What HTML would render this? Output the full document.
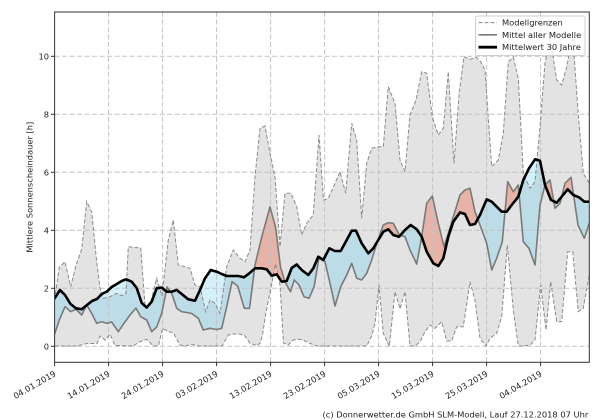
<!DOCTYPE html>
<html><head><meta charset="utf-8"><style>
html,body{margin:0;padding:0;background:#fff;}
svg{display:block;}
text{font-family:"DejaVu Sans","Liberation Sans",sans-serif;font-size:8.3px;fill:#222;}
</style></head><body>
<svg width="600" height="420" viewBox="0 0 600 420" xmlns="http://www.w3.org/2000/svg">
<defs>
<clipPath id="ax"><rect x="54.6" y="12" width="534.7" height="350.3"/></clipPath>
<clipPath id="cBelowBlack"><path d="M54.6,298.3 60,290 65,295 70.5,304 76,308.3 81.7,309.3 87,305 92,301 97,299 101.7,294 106.7,291.7 111.7,287 116.7,284 121.7,281 126,279.3 131.7,281.7 136.7,288 141.7,303 146.7,307.5 151.7,301.7 156.7,288.3 161.7,287.5 166.7,291.7 171.7,291.7 176.7,290 181.7,294 188.3,299.3 195,300.7 200,290 205,278.3 210.7,270 216.7,271.7 221.7,274 226.7,276 233.3,276 238.3,276 244,277.3 249.3,273.3 255,268.3 261.7,268.3 266.7,269.3 271.7,275.7 276.7,274.3 281.7,281.7 286.7,281 291.7,268 296.7,264.5 301.7,270 308.3,275 313.3,268.3 318.3,256.7 323.3,260 329.3,248.3 335,251 340.7,251 346.7,240 351.7,230.7 356,230.7 361.7,243.3 368.3,253.3 373.3,248.3 378.3,240 383.3,231.7 388.3,229.3 393.3,235 399,236.7 405,230 410.7,225 416.7,229.3 421.7,236.7 426.7,251.7 433.3,263.3 438.3,266 443.3,258.3 448.3,236.7 453.3,221.7 460,212.5 465,214 470,225 475,224 480,215 486.7,199.3 491.7,201.7 496.7,206.7 501.7,211.7 506.7,211.7 511.7,205 518.3,196.7 523.3,180 529,168.3 535,159.3 540,160.7 545,185 551,200 556.7,202.7 561.7,196.7 567.7,189.3 573.3,195 579,197.3 584.3,201.7 589.3,201.7 L589.3,420 54.6,420 Z"/></clipPath>
<clipPath id="cAboveBlack"><path d="M54.6,298.3 60,290 65,295 70.5,304 76,308.3 81.7,309.3 87,305 92,301 97,299 101.7,294 106.7,291.7 111.7,287 116.7,284 121.7,281 126,279.3 131.7,281.7 136.7,288 141.7,303 146.7,307.5 151.7,301.7 156.7,288.3 161.7,287.5 166.7,291.7 171.7,291.7 176.7,290 181.7,294 188.3,299.3 195,300.7 200,290 205,278.3 210.7,270 216.7,271.7 221.7,274 226.7,276 233.3,276 238.3,276 244,277.3 249.3,273.3 255,268.3 261.7,268.3 266.7,269.3 271.7,275.7 276.7,274.3 281.7,281.7 286.7,281 291.7,268 296.7,264.5 301.7,270 308.3,275 313.3,268.3 318.3,256.7 323.3,260 329.3,248.3 335,251 340.7,251 346.7,240 351.7,230.7 356,230.7 361.7,243.3 368.3,253.3 373.3,248.3 378.3,240 383.3,231.7 388.3,229.3 393.3,235 399,236.7 405,230 410.7,225 416.7,229.3 421.7,236.7 426.7,251.7 433.3,263.3 438.3,266 443.3,258.3 448.3,236.7 453.3,221.7 460,212.5 465,214 470,225 475,224 480,215 486.7,199.3 491.7,201.7 496.7,206.7 501.7,211.7 506.7,211.7 511.7,205 518.3,196.7 523.3,180 529,168.3 535,159.3 540,160.7 545,185 551,200 556.7,202.7 561.7,196.7 567.7,189.3 573.3,195 579,197.3 584.3,201.7 589.3,201.7 L589.3,0 54.6,0 Z"/></clipPath>
<clipPath id="cBelowUpper"><path d="M54.6,300 59.3,267.3 65,261.7 70.7,286.7 76,265 81.7,249.3 86.7,201.7 91.7,211.7 96.7,262 100,288 103.3,298.3 110,296.7 116.7,293.3 121.7,295.7 126,293.3 128.3,246.7 135,247.5 140.7,248 145,305 150,305 156.7,278.3 162,296 168.3,240 173.3,220 178.3,265 185,266.7 190,268.3 195,285 200,286.7 205.7,311.7 210,300 215,303.3 220,313.3 226.7,266.7 233.3,250 240,258.3 245,261.7 250,250 255,176.7 260,128.3 265,126 270,153.3 275,176.7 280,246.7 285,193.3 291,193.3 296.7,206.7 301.7,235 306.7,223.3 313.3,215 319,135 323.5,200 328.3,198.3 335,183.3 340,171.7 345.7,193.3 351.7,123.3 356.7,140 361.7,218.3 366.7,163.3 371.7,148.3 378.3,146.7 383.3,146.7 388.3,86.7 395,103.3 400,160 405,171.7 410,115 416,100 421.7,71.7 426.7,73.3 432.3,116.7 438.3,135 443.3,128.3 448.3,71.7 454,163.3 459.3,91.7 464,56.7 470,59.3 476,57.3 480,60.7 485,70 491.7,166.7 498.3,160 503.3,133.3 508.3,61.7 513.3,57.3 518.3,78.3 523.3,173.3 530,188.3 535,181.7 540,126.7 545,63.3 550,36.7 556.7,80 561.7,85 566.7,66.7 572.7,36 578.3,115 583.3,173.3 589.3,183.3 L589.3,420 54.6,420 Z"/></clipPath>
<clipPath id="cAboveLower"><path d="M54.6,346 76.7,346 87,343.5 97,343.5 100,336 105,340 110,334.3 115,345.5 133,346 140,341.7 146.7,339.3 153.3,346 158.3,346 162.7,328.3 168.3,331.7 173.3,332.7 180,345 185,346 191.7,344.3 198,346 222,346 228.3,335 233.3,334 240,334 245,336 250,343.3 256.7,345.5 260,343.3 262.5,335 266,312 270.5,290 275.5,264 280,285 283.5,343 288,345 293.3,340 298.3,339.3 303,340 310,343.3 316.7,346 366.7,346 371.7,336 375,323.3 379,285 383.3,333.3 389.3,346.5 395,291.7 400,309 405,291.7 410,346 415,346 420,341.7 425,331.7 430,325 435,328.3 441.7,321.7 446.7,341 451.7,341 456.7,326.7 463.3,326.7 470,281.7 475,300 480,338.3 486,346 490,338.3 496.7,333.3 501.7,316.7 507.3,245 513.3,310 518.3,346 523.3,346 530,345 535,340 540.7,285 546,330 550.7,281.7 556.7,321.7 561.7,321.7 567.7,251.7 572.7,251.7 578.3,311.7 583.3,308.3 589.3,275 L589.3,0 54.6,0 Z"/></clipPath>
</defs>

<rect x="0" y="0" width="600" height="420" fill="#fff"/>

<g clip-path="url(#ax)">
<!-- gray model range -->
<g clip-path="url(#cAboveLower)"><g clip-path="url(#cBelowUpper)">
<rect x="54.6" y="12" width="534.7" height="350.3" fill="#e3e3e3"/>
</g></g>

<!-- light fills (outside gray) -->
<path clip-path="url(#cBelowBlack)" fill="#d4f1fb" d="M54.6,334 59.3,320 65,306.7 70.7,311.7 76,309.3 81.7,315 86.7,305 91.7,313.3 96.7,323.3 101.7,321.7 106.7,323.3 111.7,322 118.3,331.7 124,323.3 130,315 136,308 140.7,316.7 146.7,320 151.7,331.7 156.7,327 161.7,313.3 167,287 171.7,293.3 176.7,308.3 181.7,311.7 186.7,312.5 191.7,313.5 198.3,318.3 203.3,330 210,328.3 216.7,329.5 221.7,328.3 226.7,306.7 232,281.7 237.7,286 244.3,308.3 249.5,308.3 255,265 262,236 270,207 275.5,227 280.5,267 285,282 290.5,291.7 294.3,280 299,285 304,296.7 309,298.3 314,287 319,258 325,261.7 330,283.3 335,306 340.7,286.7 346.7,275 351.7,263.3 356.7,278.3 361.7,280 366.7,273.3 371.7,260 377.3,241.7 383.3,225 388.3,222.7 393.3,223.3 399.3,235 405,236.7 410,250 416.7,264 421.7,236.7 426.7,203.3 432.3,196 438.3,223.3 444,246.7 448.3,233.3 453.3,216.7 460,195 465,190 470,188.3 475,211.7 480,225 486.7,243.3 491.7,270 496.7,258.3 502.3,241.7 507.7,181.7 513.3,191.7 518.3,185 523.3,241.7 529,248.3 535,265 540,205 545,185 550,180 555,208.3 560,203.3 565,183.3 571,177.3 578,225 584.3,238.3 589.3,223.3 L589.3,0 54.6,0 Z"/>
<path clip-path="url(#cAboveBlack)" fill="#f3cfc6" d="M54.6,334 59.3,320 65,306.7 70.7,311.7 76,309.3 81.7,315 86.7,305 91.7,313.3 96.7,323.3 101.7,321.7 106.7,323.3 111.7,322 118.3,331.7 124,323.3 130,315 136,308 140.7,316.7 146.7,320 151.7,331.7 156.7,327 161.7,313.3 167,287 171.7,293.3 176.7,308.3 181.7,311.7 186.7,312.5 191.7,313.5 198.3,318.3 203.3,330 210,328.3 216.7,329.5 221.7,328.3 226.7,306.7 232,281.7 237.7,286 244.3,308.3 249.5,308.3 255,265 262,236 270,207 275.5,227 280.5,267 285,282 290.5,291.7 294.3,280 299,285 304,296.7 309,298.3 314,287 319,258 325,261.7 330,283.3 335,306 340.7,286.7 346.7,275 351.7,263.3 356.7,278.3 361.7,280 366.7,273.3 371.7,260 377.3,241.7 383.3,225 388.3,222.7 393.3,223.3 399.3,235 405,236.7 410,250 416.7,264 421.7,236.7 426.7,203.3 432.3,196 438.3,223.3 444,246.7 448.3,233.3 453.3,216.7 460,195 465,190 470,188.3 475,211.7 480,225 486.7,243.3 491.7,270 496.7,258.3 502.3,241.7 507.7,181.7 513.3,191.7 518.3,185 523.3,241.7 529,248.3 535,265 540,205 545,185 550,180 555,208.3 560,203.3 565,183.3 571,177.3 578,225 584.3,238.3 589.3,223.3 L589.3,420 54.6,420 Z"/>

<!-- dark fills (inside gray) -->
<g clip-path="url(#cAboveLower)"><g clip-path="url(#cBelowUpper)">
<path clip-path="url(#cBelowBlack)" fill="#bcdce8" d="M54.6,334 59.3,320 65,306.7 70.7,311.7 76,309.3 81.7,315 86.7,305 91.7,313.3 96.7,323.3 101.7,321.7 106.7,323.3 111.7,322 118.3,331.7 124,323.3 130,315 136,308 140.7,316.7 146.7,320 151.7,331.7 156.7,327 161.7,313.3 167,287 171.7,293.3 176.7,308.3 181.7,311.7 186.7,312.5 191.7,313.5 198.3,318.3 203.3,330 210,328.3 216.7,329.5 221.7,328.3 226.7,306.7 232,281.7 237.7,286 244.3,308.3 249.5,308.3 255,265 262,236 270,207 275.5,227 280.5,267 285,282 290.5,291.7 294.3,280 299,285 304,296.7 309,298.3 314,287 319,258 325,261.7 330,283.3 335,306 340.7,286.7 346.7,275 351.7,263.3 356.7,278.3 361.7,280 366.7,273.3 371.7,260 377.3,241.7 383.3,225 388.3,222.7 393.3,223.3 399.3,235 405,236.7 410,250 416.7,264 421.7,236.7 426.7,203.3 432.3,196 438.3,223.3 444,246.7 448.3,233.3 453.3,216.7 460,195 465,190 470,188.3 475,211.7 480,225 486.7,243.3 491.7,270 496.7,258.3 502.3,241.7 507.7,181.7 513.3,191.7 518.3,185 523.3,241.7 529,248.3 535,265 540,205 545,185 550,180 555,208.3 560,203.3 565,183.3 571,177.3 578,225 584.3,238.3 589.3,223.3 L589.3,0 54.6,0 Z"/>
<path clip-path="url(#cAboveBlack)" fill="#e7b3a7" d="M54.6,334 59.3,320 65,306.7 70.7,311.7 76,309.3 81.7,315 86.7,305 91.7,313.3 96.7,323.3 101.7,321.7 106.7,323.3 111.7,322 118.3,331.7 124,323.3 130,315 136,308 140.7,316.7 146.7,320 151.7,331.7 156.7,327 161.7,313.3 167,287 171.7,293.3 176.7,308.3 181.7,311.7 186.7,312.5 191.7,313.5 198.3,318.3 203.3,330 210,328.3 216.7,329.5 221.7,328.3 226.7,306.7 232,281.7 237.7,286 244.3,308.3 249.5,308.3 255,265 262,236 270,207 275.5,227 280.5,267 285,282 290.5,291.7 294.3,280 299,285 304,296.7 309,298.3 314,287 319,258 325,261.7 330,283.3 335,306 340.7,286.7 346.7,275 351.7,263.3 356.7,278.3 361.7,280 366.7,273.3 371.7,260 377.3,241.7 383.3,225 388.3,222.7 393.3,223.3 399.3,235 405,236.7 410,250 416.7,264 421.7,236.7 426.7,203.3 432.3,196 438.3,223.3 444,246.7 448.3,233.3 453.3,216.7 460,195 465,190 470,188.3 475,211.7 480,225 486.7,243.3 491.7,270 496.7,258.3 502.3,241.7 507.7,181.7 513.3,191.7 518.3,185 523.3,241.7 529,248.3 535,265 540,205 545,185 550,180 555,208.3 560,203.3 565,183.3 571,177.3 578,225 584.3,238.3 589.3,223.3 L589.3,420 54.6,420 Z"/>
</g></g>

<!-- grid -->
<g stroke="#c2c2c2" stroke-width="1" stroke-dasharray="5,2.5" fill="none">
<line x1="54.6" y1="346.3" x2="589.3" y2="346.3"/>
<line x1="54.6" y1="288.3" x2="589.3" y2="288.3"/>
<line x1="54.6" y1="230.3" x2="589.3" y2="230.3"/>
<line x1="54.6" y1="172.3" x2="589.3" y2="172.3"/>
<line x1="54.6" y1="114.3" x2="589.3" y2="114.3"/>
<line x1="54.6" y1="56.3" x2="589.3" y2="56.3"/>
<line x1="108.6" y1="12" x2="108.6" y2="362.3"/>
<line x1="162.6" y1="12" x2="162.6" y2="362.3"/>
<line x1="216.6" y1="12" x2="216.6" y2="362.3"/>
<line x1="270.6" y1="12" x2="270.6" y2="362.3"/>
<line x1="324.6" y1="12" x2="324.6" y2="362.3"/>
<line x1="378.6" y1="12" x2="378.6" y2="362.3"/>
<line x1="432.6" y1="12" x2="432.6" y2="362.3"/>
<line x1="486.6" y1="12" x2="486.6" y2="362.3"/>
<line x1="540.6" y1="12" x2="540.6" y2="362.3"/>
</g>

<!-- model bounds -->
<g fill="none" stroke="#8a8a8a" stroke-width="1" stroke-dasharray="4,2">
<polyline points="54.6,300 59.3,267.3 65,261.7 70.7,286.7 76,265 81.7,249.3 86.7,201.7 91.7,211.7 96.7,262 100,288 103.3,298.3 110,296.7 116.7,293.3 121.7,295.7 126,293.3 128.3,246.7 135,247.5 140.7,248 145,305 150,305 156.7,278.3 162,296 168.3,240 173.3,220 178.3,265 185,266.7 190,268.3 195,285 200,286.7 205.7,311.7 210,300 215,303.3 220,313.3 226.7,266.7 233.3,250 240,258.3 245,261.7 250,250 255,176.7 260,128.3 265,126 270,153.3 275,176.7 280,246.7 285,193.3 291,193.3 296.7,206.7 301.7,235 306.7,223.3 313.3,215 319,135 323.5,200 328.3,198.3 335,183.3 340,171.7 345.7,193.3 351.7,123.3 356.7,140 361.7,218.3 366.7,163.3 371.7,148.3 378.3,146.7 383.3,146.7 388.3,86.7 395,103.3 400,160 405,171.7 410,115 416,100 421.7,71.7 426.7,73.3 432.3,116.7 438.3,135 443.3,128.3 448.3,71.7 454,163.3 459.3,91.7 464,56.7 470,59.3 476,57.3 480,60.7 485,70 491.7,166.7 498.3,160 503.3,133.3 508.3,61.7 513.3,57.3 518.3,78.3 523.3,173.3 530,188.3 535,181.7 540,126.7 545,63.3 550,36.7 556.7,80 561.7,85 566.7,66.7 572.7,36 578.3,115 583.3,173.3 589.3,183.3"/>
<polyline points="54.6,346 76.7,346 87,343.5 97,343.5 100,336 105,340 110,334.3 115,345.5 133,346 140,341.7 146.7,339.3 153.3,346 158.3,346 162.7,328.3 168.3,331.7 173.3,332.7 180,345 185,346 191.7,344.3 198,346 222,346 228.3,335 233.3,334 240,334 245,336 250,343.3 256.7,345.5 260,343.3 262.5,335 266,312 270.5,290 275.5,264 280,285 283.5,343 288,345 293.3,340 298.3,339.3 303,340 310,343.3 316.7,346 366.7,346 371.7,336 375,323.3 379,285 383.3,333.3 389.3,346.5 395,291.7 400,309 405,291.7 410,346 415,346 420,341.7 425,331.7 430,325 435,328.3 441.7,321.7 446.7,341 451.7,341 456.7,326.7 463.3,326.7 470,281.7 475,300 480,338.3 486,346 490,338.3 496.7,333.3 501.7,316.7 507.3,245 513.3,310 518.3,346 523.3,346 530,345 535,340 540.7,285 546,330 550.7,281.7 556.7,321.7 561.7,321.7 567.7,251.7 572.7,251.7 578.3,311.7 583.3,308.3 589.3,275"/>
</g>

<!-- model mean -->
<polyline fill="none" stroke="#7a7a7a" stroke-width="1.6" stroke-linejoin="round" points="54.6,334 59.3,320 65,306.7 70.7,311.7 76,309.3 81.7,315 86.7,305 91.7,313.3 96.7,323.3 101.7,321.7 106.7,323.3 111.7,322 118.3,331.7 124,323.3 130,315 136,308 140.7,316.7 146.7,320 151.7,331.7 156.7,327 161.7,313.3 167,287 171.7,293.3 176.7,308.3 181.7,311.7 186.7,312.5 191.7,313.5 198.3,318.3 203.3,330 210,328.3 216.7,329.5 221.7,328.3 226.7,306.7 232,281.7 237.7,286 244.3,308.3 249.5,308.3 255,265 262,236 270,207 275.5,227 280.5,267 285,282 290.5,291.7 294.3,280 299,285 304,296.7 309,298.3 314,287 319,258 325,261.7 330,283.3 335,306 340.7,286.7 346.7,275 351.7,263.3 356.7,278.3 361.7,280 366.7,273.3 371.7,260 377.3,241.7 383.3,225 388.3,222.7 393.3,223.3 399.3,235 405,236.7 410,250 416.7,264 421.7,236.7 426.7,203.3 432.3,196 438.3,223.3 444,246.7 448.3,233.3 453.3,216.7 460,195 465,190 470,188.3 475,211.7 480,225 486.7,243.3 491.7,270 496.7,258.3 502.3,241.7 507.7,181.7 513.3,191.7 518.3,185 523.3,241.7 529,248.3 535,265 540,205 545,185 550,180 555,208.3 560,203.3 565,183.3 571,177.3 578,225 584.3,238.3 589.3,223.3"/>

<!-- 30-year mean -->
<polyline fill="none" stroke="#000" stroke-width="2.6" stroke-linejoin="round" stroke-linecap="round" points="54.6,298.3 60,290 65,295 70.5,304 76,308.3 81.7,309.3 87,305 92,301 97,299 101.7,294 106.7,291.7 111.7,287 116.7,284 121.7,281 126,279.3 131.7,281.7 136.7,288 141.7,303 146.7,307.5 151.7,301.7 156.7,288.3 161.7,287.5 166.7,291.7 171.7,291.7 176.7,290 181.7,294 188.3,299.3 195,300.7 200,290 205,278.3 210.7,270 216.7,271.7 221.7,274 226.7,276 233.3,276 238.3,276 244,277.3 249.3,273.3 255,268.3 261.7,268.3 266.7,269.3 271.7,275.7 276.7,274.3 281.7,281.7 286.7,281 291.7,268 296.7,264.5 301.7,270 308.3,275 313.3,268.3 318.3,256.7 323.3,260 329.3,248.3 335,251 340.7,251 346.7,240 351.7,230.7 356,230.7 361.7,243.3 368.3,253.3 373.3,248.3 378.3,240 383.3,231.7 388.3,229.3 393.3,235 399,236.7 405,230 410.7,225 416.7,229.3 421.7,236.7 426.7,251.7 433.3,263.3 438.3,266 443.3,258.3 448.3,236.7 453.3,221.7 460,212.5 465,214 470,225 475,224 480,215 486.7,199.3 491.7,201.7 496.7,206.7 501.7,211.7 506.7,211.7 511.7,205 518.3,196.7 523.3,180 529,168.3 535,159.3 540,160.7 545,185 551,200 556.7,202.7 561.7,196.7 567.7,189.3 573.3,195 579,197.3 584.3,201.7 589.3,201.7"/>
</g>

<!-- spines -->
<rect x="54.6" y="12" width="534.7" height="350.3" fill="none" stroke="#333" stroke-width="1"/>

<!-- y ticks -->
<g stroke="#333" stroke-width="1">
<line x1="51" y1="346.3" x2="54.6" y2="346.3"/>
<line x1="51" y1="288.3" x2="54.6" y2="288.3"/>
<line x1="51" y1="230.3" x2="54.6" y2="230.3"/>
<line x1="51" y1="172.3" x2="54.6" y2="172.3"/>
<line x1="51" y1="114.3" x2="54.6" y2="114.3"/>
<line x1="51" y1="56.3" x2="54.6" y2="56.3"/>
<line x1="54.6" y1="362.3" x2="54.6" y2="366"/>
<line x1="108.6" y1="362.3" x2="108.6" y2="366"/>
<line x1="162.6" y1="362.3" x2="162.6" y2="366"/>
<line x1="216.6" y1="362.3" x2="216.6" y2="366"/>
<line x1="270.6" y1="362.3" x2="270.6" y2="366"/>
<line x1="324.6" y1="362.3" x2="324.6" y2="366"/>
<line x1="378.6" y1="362.3" x2="378.6" y2="366"/>
<line x1="432.6" y1="362.3" x2="432.6" y2="366"/>
<line x1="486.6" y1="362.3" x2="486.6" y2="366"/>
<line x1="540.6" y1="362.3" x2="540.6" y2="366"/>
</g>

<g text-anchor="end">
<text x="49" y="349.3">0</text>
<text x="49" y="291.3">2</text>
<text x="49" y="233.3">4</text>
<text x="49" y="175.3">6</text>
<text x="49" y="117.3">8</text>
<text x="49" y="59.3">10</text>
</g>

<g text-anchor="end">
<text transform="translate(56.6,375.5) rotate(-30)">04.01.2019</text>
<text transform="translate(110.6,375.5) rotate(-30)">14.01.2019</text>
<text transform="translate(164.6,375.5) rotate(-30)">24.01.2019</text>
<text transform="translate(218.6,375.5) rotate(-30)">03.02.2019</text>
<text transform="translate(272.6,375.5) rotate(-30)">13.02.2019</text>
<text transform="translate(326.6,375.5) rotate(-30)">23.02.2019</text>
<text transform="translate(380.6,375.5) rotate(-30)">05.03.2019</text>
<text transform="translate(434.6,375.5) rotate(-30)">15.03.2019</text>
<text transform="translate(488.6,375.5) rotate(-30)">25.03.2019</text>
<text transform="translate(542.6,375.5) rotate(-30)">04.04.2019</text>
</g>

<text transform="translate(32.5,187.2) rotate(-90)" text-anchor="middle">Mittlere Sonnenscheindauer [h]</text>

<text x="588.3" y="417.3" text-anchor="end">(c) Donnerwetter.de GmbH SLM-Modell, Lauf 27.12.2018 07 Uhr</text>

<!-- legend -->
<rect x="475.5" y="16" width="109.5" height="39.5" rx="2" ry="2" fill="#fff" fill-opacity="0.85" stroke="#cfcfcf" stroke-width="1"/>
<line x1="478.5" y1="22.6" x2="497" y2="22.6" stroke="#8a8a8a" stroke-width="1" stroke-dasharray="4,2"/>
<line x1="478.5" y1="34.8" x2="497" y2="34.8" stroke="#7a7a7a" stroke-width="1.6"/>
<line x1="478.5" y1="47.2" x2="497" y2="47.2" stroke="#000" stroke-width="2.8"/>
<text x="502" y="25.6">Modellgrenzen</text>
<text x="502" y="37.8">Mittel aller Modelle</text>
<text x="502" y="50.2">Mittelwert 30 Jahre</text>
</svg>
</body></html>
